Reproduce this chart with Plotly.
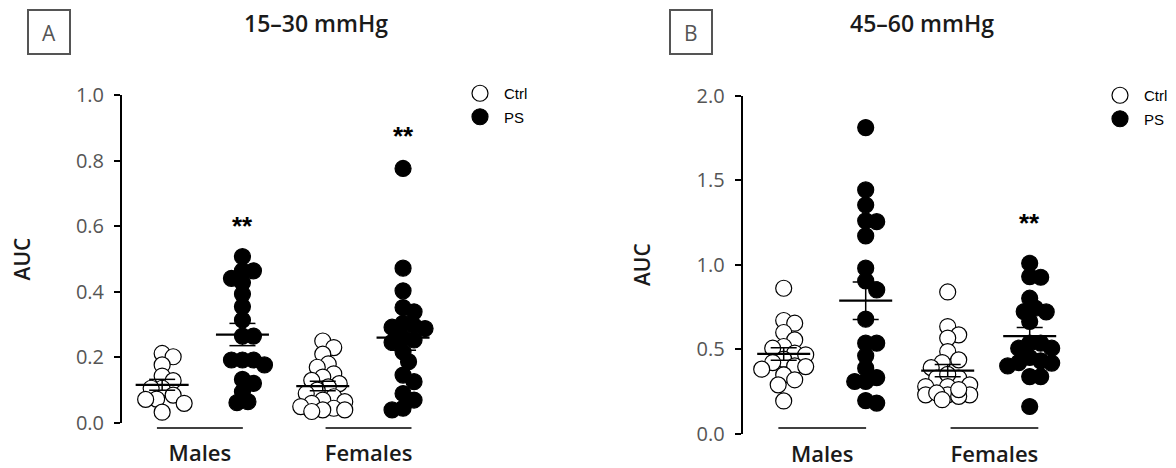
import numpy as np
import plotly.graph_objects as go

W, H = 1176, 468

# ---------------- data ----------------
groups = ["Males", "Females"]
conditions = ["Ctrl", "PS"]
group_pos = {"Males": {"Ctrl": 1, "PS": 2}, "Females": {"Ctrl": 3, "PS": 4}}
cat_label_pos = [1.47, 3.57]

titles = ["15–30 mmHg", "45–60 mmHg"]
panel_letters = ["A", "B"]

# Panel A (15–30 mmHg) AUC values
a_male_ctrl = [0.212, 0.202, 0.177, 0.143, 0.129, 0.106, 0.106, 0.085, 0.073, 0.072, 0.060, 0.033]
a_male_ps = [0.507, 0.441, 0.428, 0.464, 0.464, 0.393, 0.355, 0.314, 0.265, 0.265,
             0.177, 0.192, 0.192, 0.192, 0.121, 0.133, 0.095, 0.062, 0.065]
a_female_ctrl = [0.250, 0.230, 0.210, 0.180, 0.170, 0.150, 0.140, 0.130, 0.120, 0.110, 0.100,
                 0.090, 0.080, 0.070, 0.065, 0.060, 0.050, 0.045, 0.040, 0.035, 0.040]
a_female_ps = [0.776, 0.472, 0.403, 0.352, 0.339, 0.304, 0.296, 0.292, 0.288, 0.253,
               0.246, 0.260, 0.217, 0.187, 0.146, 0.126, 0.090, 0.070, 0.045, 0.040]

# Panel B (45–60 mmHg) AUC values
b_male_ctrl = [0.860, 0.669, 0.653, 0.598, 0.554, 0.515, 0.505, 0.476, 0.466, 0.440,
               0.420, 0.400, 0.396, 0.381, 0.347, 0.318, 0.288, 0.193]
b_male_ps = [1.811, 1.442, 1.353, 1.254, 1.259, 1.170, 0.979, 0.904, 0.850, 0.677,
             0.535, 0.535, 0.460, 0.387, 0.308, 0.308, 0.331, 0.180, 0.195]
b_female_ctrl = [0.838, 0.633, 0.584, 0.565, 0.485, 0.436, 0.420, 0.390, 0.328, 0.328, 0.350,
                 0.278, 0.288, 0.278, 0.229, 0.229, 0.220, 0.229, 0.240, 0.200, 0.260]
b_female_ps = [1.008, 0.929, 0.925, 0.801, 0.722, 0.742, 0.720, 0.663, 0.505, 0.535,
               0.535, 0.505, 0.417, 0.420, 0.430, 0.337, 0.337, 0.160, 0.450, 0.400]

panels = [
    {"Males": {"Ctrl": a_male_ctrl, "PS": a_male_ps},
     "Females": {"Ctrl": a_female_ctrl, "PS": a_female_ps}},
    {"Males": {"Ctrl": b_male_ctrl, "PS": b_male_ps},
     "Females": {"Ctrl": b_female_ctrl, "PS": b_female_ps}},
]
y_ranges = [[0, 1.0], [0, 2.0]]
y_dticks = [0.2, 0.5]
# significance markers: (panel, group, condition, y)
stars = [(0, "Males", "PS", 0.60), (0, "Females", "PS", 0.875), (1, "Females", "PS", 1.245)]

# ---------------- layout geometry ----------------
x_range = [0.5, 4.5]
x_domains = [[122 / W, (122 + 4 * 80.3) / W], [742.7 / W, (742.7 + 4 * 82) / W]]
y_domains = [[(H - 423) / H, (H - 95) / H], [(H - 433.5) / H, (H - 95.7) / H]]

FONT = "Open Sans"


def swarm_offsets(values, ypx, xpx, min_d=11.0, step=5.5, max_off=22.0):
    vals = np.asarray(values, dtype=float)
    order = np.argsort(-vals, kind="stable")
    cands = [0.0]
    j = 1
    while j * step <= max_off + 1e-9:
        cands += [j * step, -j * step]
        j += 1
    placed = []
    offs = np.zeros(len(vals))
    for i in order:
        yp = vals[i] * ypx
        chosen, best_d, chosen_best = None, -1.0, 0.0
        for c in cands:
            d = min([np.hypot(c - px, yp - py) for px, py in placed] or [1e9])
            if d >= min_d:
                chosen = c
                break
            if d > best_d:
                best_d, chosen_best = d, c
        if chosen is None:
            chosen = chosen_best
        placed.append((chosen, yp))
        offs[i] = chosen / xpx
    return offs


fig = go.Figure()
annotations = []
shapes = []

for p in range(2):
    xa = "x" if p == 0 else "x2"
    ya = "y" if p == 0 else "y2"
    xpx = (x_domains[p][1] - x_domains[p][0]) * W / (x_range[1] - x_range[0])
    ypx = (y_domains[p][1] - y_domains[p][0]) * H / (y_ranges[p][1] - y_ranges[p][0])
    legend_name = "legend" if p == 0 else "legend2"

    for cond in conditions:
        xs, ys = [], []
        for g in groups:
            vals = panels[p][g][cond]
            offs = swarm_offsets(vals, ypx, xpx)
            xs += list(group_pos[g][cond] + offs)
            ys += list(vals)
        fill = "white" if cond == "Ctrl" else "black"
        fig.add_trace(go.Scatter(
            x=xs, y=ys, mode="markers", name=cond, xaxis=xa, yaxis=ya,
            legend=legend_name, legendgroup=f"{p}{cond}",
            marker=dict(size=16, color=fill, symbol="circle",
                        line=dict(color="black", width=1.2)),
            cliponaxis=False, hoverinfo="y",
        ))

    # mean and SEM lines
    mx, my, sx, sy = [], [], [], []
    half_mean = 26.5 / xpx
    half_cap = 13.0 / xpx
    for g in groups:
        for cond in conditions:
            vals = np.asarray(panels[p][g][cond])
            m = vals.mean()
            sem = vals.std(ddof=1) / np.sqrt(len(vals))
            c = group_pos[g][cond]
            mx += [c - half_mean, c + half_mean, None]
            my += [m, m, None]
            sx += [c, c, None, c - half_cap, c + half_cap, None, c - half_cap, c + half_cap, None]
            sy += [m - sem, m + sem, None, m + sem, m + sem, None, m - sem, m - sem, None]
    fig.add_trace(go.Scatter(x=sx, y=sy, mode="lines", xaxis=xa, yaxis=ya, showlegend=False,
                             line=dict(color="black", width=1.5), hoverinfo="skip"))
    fig.add_trace(go.Scatter(x=mx, y=my, mode="lines", xaxis=xa, yaxis=ya, showlegend=False,
                             line=dict(color="black", width=2.2), hoverinfo="skip"))

    # underlines below categories
    xref = ("x" if p == 0 else "x2") + " domain"
    for i, g in enumerate(groups):
        cpos = cat_label_pos[i]
        f0 = (cpos - 0.535 - x_range[0]) / (x_range[1] - x_range[0])
        f1 = (cpos + 0.535 - x_range[0]) / (x_range[1] - x_range[0])
        shapes.append(dict(type="line", xref=xref, yref="paper", x0=f0, x1=f1,
                           y0=(H - 428) / H, y1=(H - 428) / H,
                           line=dict(color="black", width=1.5)))

    # title
    annotations.append(dict(text=titles[p], xref="paper", yref="paper",
                            x=(316 if p == 0 else 922) / W, y=1 - 23 / H,
                            showarrow=False, xanchor="center", yanchor="middle",
                            font=dict(family=FONT, size=23, color="#1a1a1a", weight=600)))
    # panel letter box
    bx0 = 28 if p == 0 else 670
    shapes.append(dict(type="rect", xref="paper", yref="paper",
                       x0=bx0 / W, x1=(bx0 + 42) / W, y0=1 - 54 / H, y1=1 - 10 / H,
                       line=dict(color="#555555", width=2)))
    annotations.append(dict(text=panel_letters[p], xref="paper", yref="paper",
                            x=(bx0 + 21) / W, y=1 - 33 / H, showarrow=False,
                            xanchor="center", yanchor="middle",
                            font=dict(family=FONT, size=21, color="#555555")))

for (p, g, cond, yv) in stars:
    annotations.append(dict(text="**", x=group_pos[g][cond], y=yv,
                            xref="x" if p == 0 else "x2", yref="y" if p == 0 else "y2",
                            showarrow=False, xanchor="center", yanchor="middle",
                            font=dict(family="Liberation Sans", size=26, color="black", weight="bold")))

axis_common_y = dict(showline=True, linecolor="black", linewidth=2, ticks="outside",
                     ticklen=6, tickwidth=2, tickcolor="black", showgrid=False, zeroline=False,
                     tickformat=".1f", automargin=False, ticklabelstandoff=6,
                     tickfont=dict(family=FONT, size=20, color="#555555"),
                     title=dict(text="AUC", font=dict(family=FONT, size=21, color="#1a1a1a", weight=600),
                                standoff=40))
axis_common_x = dict(range=x_range, showline=False, showgrid=False, zeroline=False, ticks="",
                     tickvals=cat_label_pos, ticktext=groups, automargin=False,
                     tickfont=dict(family=FONT, size=22, color="#1a1a1a", weight=600))

fig.update_layout(
    template="none",
    width=W, height=H, margin=dict(l=0, r=0, t=0, b=0, pad=0, autoexpand=False),
    paper_bgcolor="white", plot_bgcolor="white",
    xaxis=dict(domain=x_domains[0], anchor="y", ticklabelstandoff=15, **axis_common_x),
    xaxis2=dict(domain=x_domains[1], anchor="y2", ticklabelstandoff=5, **axis_common_x),
    yaxis=dict(domain=y_domains[0], anchor="x", range=y_ranges[0], dtick=y_dticks[0], **axis_common_y),
    yaxis2=dict(domain=y_domains[1], anchor="x2", range=y_ranges[1], dtick=y_dticks[1], **axis_common_y),
    legend=dict(x=(479 - 23) / W, y=1 - 77 / H, xanchor="left", yanchor="top",
                font=dict(family="Liberation Sans", size=15, color="black"),
                itemwidth=38, tracegroupgap=1, bgcolor="rgba(0,0,0,0)"),
    legend2=dict(x=(1119 - 23) / W, y=1 - 79 / H, xanchor="left", yanchor="top",
                 font=dict(family="Liberation Sans", size=15, color="black"),
                 itemwidth=38, tracegroupgap=1, bgcolor="rgba(0,0,0,0)"),
    annotations=annotations, shapes=shapes,
)

fig.write_html("out.html", config={"displayModeBar": False},
               post_script="document.body.style.margin='0px';document.body.style.overflow='hidden';")
